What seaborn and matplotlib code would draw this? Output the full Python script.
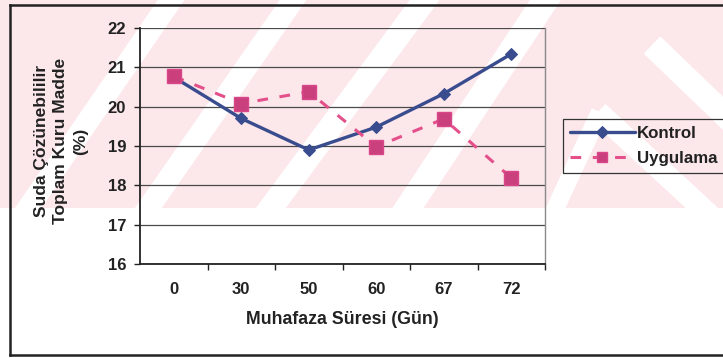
import matplotlib
matplotlib.use("Agg")
import matplotlib.pyplot as plt
import seaborn as sns
import pandas as pd
import numpy as np
from matplotlib.patches import Polygon, Rectangle

# storage time (days) and soluble dry matter (%)
days = ["0", "30", "50", "60", "67", "72"]
kontrol = [20.75, 19.70, 18.90, 19.48, 20.33, 21.34]
uygulama = [20.77, 20.08, 20.38, 18.98, 19.69, 18.19]

series_names = ["Kontrol", "Uygulama"]
x_title = "Muhafaza Süresi (Gün)"
y_title = "Suda Çözünebililir\nToplam Kuru Madde\n(%)"

NAVY = "#384c8e"
PINK_LINE = "#e4508a"
PINK_MARK = "#c9407c"
BAND = "#fce7eb"
INK = "#222222"

sns.set_theme(style="white")
plt.rcParams["font.family"] = ["Liberation Sans", "DejaVu Sans"]
plt.rcParams["font.weight"] = "bold"

W, H = 723, 358
fig = plt.figure(figsize=(W / 100, H / 100), dpi=100)

# background layer in pixel units: tinted band with pale diagonal stripes, plus outer frame
bg = fig.add_axes([0, 0, 1, 1], zorder=0)
bg.set_xlim(0, W)
bg.set_ylim(H, 0)
bg.axis("off")
band_h = 208
band = Rectangle((0, 0), W, band_h, facecolor=BAND, edgecolor="none")
bg.add_patch(band)


def strip(p0, p1, width):
    p0, p1 = np.asarray(p0, float), np.asarray(p1, float)
    d = p1 - p0
    n = np.array([-d[1], d[0]]) / np.hypot(*d) * width / 2
    return [p0 + n, p1 + n, p1 - n, p0 - n]


stripes = [
    strip((178, -10), (20, 220), 22),
    strip((300, -10), (140, 220), 22),
    strip((432, -10), (262, 220), 24),
    strip((552, -10), (400, 220), 26),
    strip((652, 45), (780, 168), 24),
    strip((598, 112), (715, 220), 22),
    strip((600, 112), (550, 220), 18),
]
for pts in stripes:
    p = Polygon(pts, closed=True, facecolor="white", edgecolor="none")
    bg.add_patch(p)
    p.set_clip_path(band)

frame_kw = dict(color=INK, lw=1.8, solid_capstyle="projecting")
bg.plot([10, 10], [5, 355], **frame_kw)
bg.plot([10, 740], [5, 5], **frame_kw)
bg.plot([10, 740], [355, 355], **frame_kw)

# plot area
ax = fig.add_axes([140 / W, 94 / H, 405 / W, 236 / H], zorder=1)
ax.patch.set_alpha(0)

df = pd.DataFrame({"Gün": days, "Kontrol": kontrol, "Uygulama": uygulama})

sns.lineplot(data=df, x="Gün", y="Kontrol", ax=ax, sort=False, color=NAVY,
             lw=2.4, marker="D", markersize=6.5, markerfacecolor=NAVY,
             markeredgecolor=NAVY, label=series_names[0], zorder=3)
sns.lineplot(data=df, x="Gün", y="Uygulama", ax=ax, sort=False, color=PINK_LINE,
             lw=2.2, linestyle=(0, (3.5, 3.8)), marker="s", markersize=10,
             markerfacecolor=PINK_MARK, markeredgecolor="#d9468a",
             markeredgewidth=1.0, label=series_names[1], zorder=4)

ax.set_xlim(-0.5, len(days) - 0.5)
ax.set_ylim(16, 22)
ax.set_yticks(range(16, 23))
ax.set_xticks(range(len(days)))
ax.set_xticklabels(days)
ax.set_xticks(np.arange(0.5, len(days), 1.0), minor=True)

ax.yaxis.grid(True, color="#4a4a4a", lw=0.9)
ax.xaxis.grid(False)
ax.set_axisbelow(True)

for side in ("left", "bottom"):
    ax.spines[side].set_color(INK)
    ax.spines[side].set_linewidth(1.3)
ax.spines["right"].set_color("#8a8a8a")
ax.spines["right"].set_linewidth(1.0)
ax.spines["top"].set_visible(False)

ax.tick_params(axis="x", which="major", bottom=True, length=0, pad=13,
               labelsize=12, labelcolor=INK)
ax.tick_params(axis="x", which="minor", bottom=True, length=4, width=1,
               direction="out", color=INK)
ax.tick_params(axis="y", which="major", left=True, length=4, width=1,
               direction="out", color=INK, pad=6, labelsize=12, labelcolor=INK)
for lab in ax.get_xticklabels() + ax.get_yticklabels():
    lab.set_fontweight("bold")

ax.set_xlabel(x_title, fontsize=12.8, fontweight="bold", color=INK)
ax.xaxis.set_label_coords(0.5, -0.2)
ax.xaxis.label.set_va("top")

ax.set_ylabel(y_title, fontsize=12.5, fontweight="bold", color=INK,
              linespacing=1.4, multialignment="center")
ax.yaxis.set_label_coords((61 - 140) / 405, (264 - 141) / 236)
ax.yaxis.label.set_va("center")
ax.yaxis.label.set_ha("center")

handles, labels = ax.get_legend_handles_labels()
leg = ax.legend(handles, labels, loc="upper left",
                bbox_to_anchor=(563 / W, 1 - 119 / H), bbox_transform=fig.transFigure,
                borderaxespad=0, frameon=True, fancybox=False, facecolor="none",
                edgecolor="#333333", framealpha=1, handlelength=3.8,
                handletextpad=0.15, labelspacing=0.6, borderpad=0.42,
                prop={"size": 12.2, "weight": "bold"})
leg.get_frame().set_linewidth(0.9)
for t in leg.get_texts():
    t.set_color(INK)
lh = leg.legend_handles
lh[0].set_markersize(6.5)
lh[1].set_markersize(6.5)

fig.savefig("out.png", dpi=100)
